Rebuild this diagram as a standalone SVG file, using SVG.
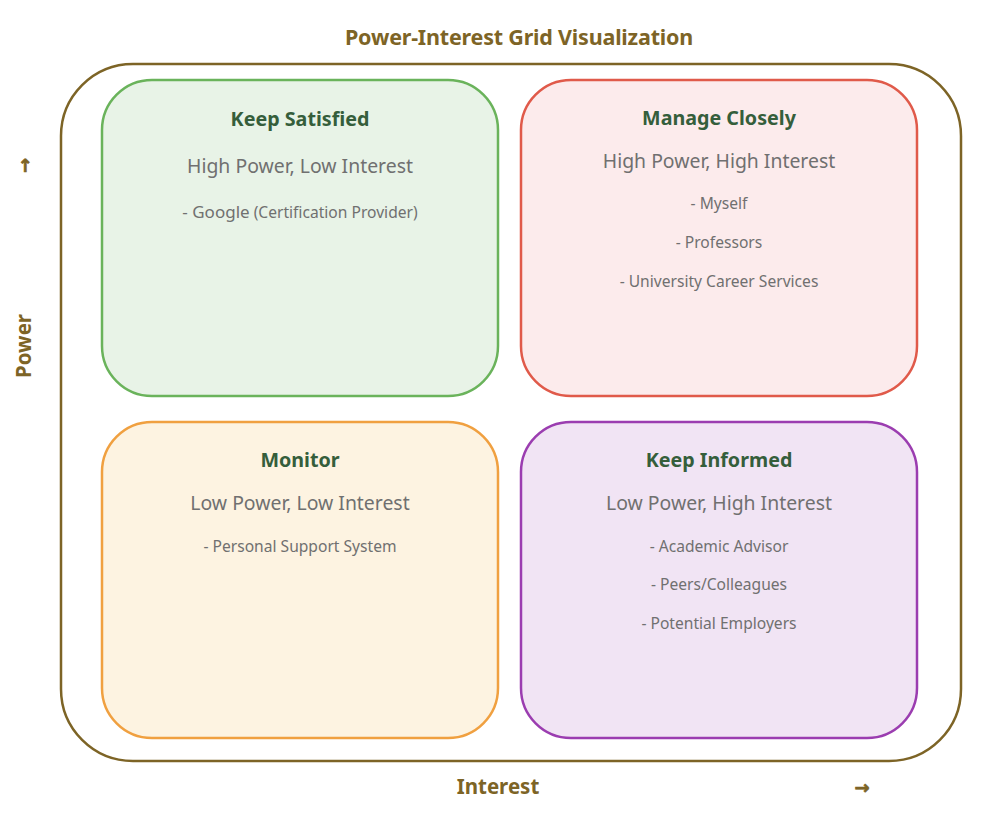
<svg xmlns="http://www.w3.org/2000/svg" width="996" height="814" viewBox="0 0 996 814">
<style>
.t{font-family:"Noto Sans","Open Sans",sans-serif;text-anchor:middle}
.title{font-family:"Noto Sans",sans-serif;font-weight:bold;font-size:21.5px;fill:#7d6426;text-anchor:middle;letter-spacing:-0.2px}
.axis{font-family:"Noto Sans",sans-serif;font-weight:bold;font-size:20.5px;fill:#7d6426;text-anchor:middle}
.arr{font-family:"DejaVu Sans",sans-serif;font-weight:bold;font-size:18px;fill:#7d6426;stroke:#7d6426;stroke-width:0.7;text-anchor:middle}
.h{font-weight:bold;font-size:19.7px;fill:#355e3b}
.s{font-size:19.4px;fill:#707070}
.i{font-size:15.6px;fill:#707070}
.q{stroke-width:2.5}
</style>
<rect width="996" height="814" fill="#ffffff"/>
<text class="title" x="519" y="45">Power-Interest Grid Visualization</text>
<rect x="61" y="64" width="900" height="697" rx="72" ry="72" fill="none" stroke="#7d6426" stroke-width="2.5"/>
<g id="axes">
<text class="arr" x="25" y="172">↑</text>
<text class="axis" transform="translate(31,346) rotate(-90)">Power</text>
<text class="axis" x="498" y="794">Interest</text>
<text class="arr" x="862" y="794">→</text>
</g>
<g id="keep-satisfied">
<rect class="q" x="102" y="80" width="396" height="316" rx="50" fill="#e8f3e7" stroke="#6ab35b"/>
<text class="t h" x="300" y="126">Keep Satisfied</text>
<text class="t s" x="300" y="173">High Power, Low Interest</text>
<text class="t i" x="300" y="218"><tspan font-size="17">- Google</tspan> (Certification Provider)</text>
</g>
<g id="manage-closely">
<rect class="q" x="521" y="80" width="396" height="316" rx="50" fill="#fcebec" stroke="#e05a4a"/>
<text class="t h" x="719" y="125">Manage Closely</text>
<text class="t s" x="719" y="168">High Power, High Interest</text>
<text class="t i" x="719" y="209">- Myself</text>
<text class="t i" x="719" y="248">- Professors</text>
<text class="t i" x="719" y="287">- University Career Services</text>
</g>
<g id="monitor">
<rect class="q" x="102" y="422" width="396" height="316" rx="50" fill="#fdf3e1" stroke="#f0a040"/>
<text class="t h" x="300" y="467">Monitor</text>
<text class="t s" x="300" y="510">Low Power, Low Interest</text>
<text class="t i" x="300" y="552">- Personal Support System</text>
</g>
<g id="keep-informed">
<rect class="q" x="521" y="422" width="396" height="316" rx="50" fill="#f1e4f4" stroke="#9b3db0"/>
<text class="t h" x="719" y="467">Keep Informed</text>
<text class="t s" x="719" y="510">Low Power, High Interest</text>
<text class="t i" x="719" y="552">- Academic Advisor</text>
<text class="t i" x="719" y="590">- Peers/Colleagues</text>
<text class="t i" x="719" y="629">- Potential Employers</text>
</g>
</svg>
